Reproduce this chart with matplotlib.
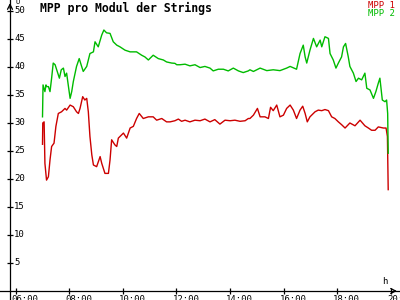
"""
plot.py
MPP pro Modul der Strings - daily curve of two strings.
"""
import matplotlib
matplotlib.use("Agg")
import matplotlib.pyplot as plt

# time in decimal hours, MPP voltage per module
T_MPP1 = [7.00, 7.01, 7.06, 7.09, 7.15, 7.22, 7.28, 7.34, 7.43, 7.50, 7.59, 7.71,
          7.84, 7.90, 8.03, 8.15, 8.27, 8.34, 8.40, 8.50, 8.58, 8.65, 8.71, 8.77,
          8.84, 8.90, 9.02, 9.15, 9.21, 9.33, 9.46, 9.52, 9.58, 9.70, 9.77, 9.83,
          10.02, 10.14, 10.27, 10.39, 10.51, 10.61, 10.76, 10.95, 11.13, 11.26,
          11.45, 11.63, 11.76, 11.94, 12.07, 12.19, 12.32, 12.50, 12.69, 12.88,
          13.06, 13.25, 13.43, 13.62, 13.81, 14.00, 14.18, 14.37, 14.56, 14.68,
          14.74, 14.87, 15.02, 15.12, 15.30, 15.43, 15.51, 15.61, 15.74, 15.86,
          15.99, 16.11, 16.24, 16.36, 16.48, 16.61, 16.71, 16.80, 16.88, 16.98,
          17.17, 17.29, 17.42, 17.54, 17.67, 17.79, 17.91, 18.04, 18.16, 18.29,
          18.47, 18.66, 18.85, 19.03, 19.16, 19.28, 19.41, 19.53, 19.72, 19.82,
          19.87, 19.88, 19.90]
MPP1 = [26.2, 30.0, 30.2, 22.8, 19.8, 20.4, 23.4, 25.8, 26.4, 29.4, 31.7, 32.0,
        32.6, 32.3, 33.2, 32.9, 32.0, 31.7, 32.6, 34.7, 34.1, 34.4, 32.0, 27.6,
        24.3, 22.5, 22.2, 24.0, 22.8, 21.0, 21.0, 23.4, 27.0, 26.1, 25.8, 27.3,
        28.2, 27.3, 29.1, 29.4, 30.8, 31.7, 30.8, 31.1, 31.1, 30.5,
        30.8, 30.2, 30.2, 30.4, 30.7, 30.3, 30.5, 30.2, 30.5, 30.4,
        30.7, 30.2, 30.6, 29.8, 30.5, 30.4, 30.5, 30.3, 30.4, 30.8,
        30.8, 31.4, 32.6, 31.1, 31.1, 30.8, 32.8, 32.2, 33.2, 31.1,
        31.4, 32.6, 33.2, 32.3, 30.8, 32.3, 33.0, 31.7, 30.2, 31.1,
        32.0, 32.3, 32.2, 32.4, 32.2, 31.1, 30.8, 30.2, 29.7, 29.1,
        30.0, 29.5, 30.5, 29.5, 29.1, 28.7, 28.7, 29.3, 29.1, 29.1,
        27.6, 24.6, 18.1]

T_MPP2 = [7.00, 7.02, 7.09, 7.13, 7.15, 7.22, 7.28, 7.34, 7.40, 7.47, 7.53, 7.63,
          7.70, 7.78, 7.84, 7.90, 7.96, 8.03, 8.09, 8.15, 8.27, 8.37, 8.46, 8.52,
          8.65, 8.77, 8.90, 8.96, 9.08, 9.21, 9.29, 9.39, 9.52, 9.64, 9.77, 9.89,
          10.08, 10.27, 10.51, 10.70, 10.82, 10.95, 11.13, 11.32, 11.51, 11.63,
          11.82, 11.94, 12.01, 12.13, 12.32, 12.50, 12.69, 12.88, 13.06, 13.25,
          13.37, 13.56, 13.75, 13.93, 14.12, 14.31, 14.49, 14.68, 14.74, 14.87,
          15.12, 15.37, 15.61, 15.86, 16.11, 16.24, 16.48, 16.61, 16.73, 16.80,
          16.86, 16.98, 17.11, 17.23, 17.36, 17.42, 17.54, 17.67, 17.73, 17.85,
          17.95, 18.04, 18.16, 18.23, 18.31, 18.41, 18.47, 18.60, 18.70, 18.79,
          18.91, 19.03, 19.10, 19.22, 19.35, 19.44, 19.53, 19.59, 19.68, 19.78,
          19.84, 19.88, 19.90]
MPP2 = [31.1, 36.8, 35.6, 36.8, 36.5, 36.5, 35.6, 38.0, 40.7, 40.4, 39.5, 38.0,
        39.5, 39.8, 38.3, 38.9, 36.8, 34.4, 35.6, 37.4, 40.1, 41.5, 40.1, 39.2,
        40.1, 42.4, 42.7, 44.5, 43.6, 45.7, 46.6, 46.1, 46.0, 44.5, 43.9, 43.6,
        43.0, 42.7, 42.7, 42.1, 41.8, 41.25, 42.1, 41.5, 41.25, 40.9,
        40.7, 40.65, 40.4, 40.4, 40.5, 40.2, 40.4, 39.9, 40.1, 39.8,
        39.3, 39.6, 39.6, 39.3, 39.8, 39.3, 39.0, 39.3, 39.5, 39.2,
        39.8, 39.35, 39.5, 39.35, 39.8, 40.1, 39.6, 42.4, 43.9, 41.8,
        40.7, 43.0, 45.1, 43.6, 44.8, 43.6, 45.4, 45.1, 42.4, 41.25,
        39.8, 40.7, 41.8, 43.6, 44.2, 41.8, 40.1, 38.9, 37.4, 38.0,
        37.7, 38.9, 36.2, 35.9, 34.4, 35.6, 37.1, 38.0, 34.1, 33.8,
        34.1, 31.7, 24.6]

Y_TICKS = list(range(5, 55, 5))
X_TICKS = [6, 8, 10, 12, 14, 16, 18, 20]
X_LABELS = ["06:00", "08:00", "10:00", "12:00", "14:00", "16:00", "18:00", "20:"]

RED = "#cc0000"
GREEN = "#00bb00"
MONO = "DejaVu Sans Mono"

fig = plt.figure(figsize=(4, 3), dpi=100)
ax = fig.add_axes([0, 0, 1, 1])
ax.set_xlim(5.414, 20.34)
ax.set_ylim(-1.607, 51.96)

y_axis_x = 5.787
ax.plot(T_MPP1, MPP1, color=RED, lw=1.0)
ax.plot(T_MPP2, MPP2, color=GREEN, lw=1.0)

# axes crossing at origin with arrow heads
for side in ("top", "right"):
    ax.spines[side].set_visible(False)
ax.spines["left"].set_position(("data", y_axis_x))
ax.spines["bottom"].set_position(("data", 0))
ax.spines["left"].set_linewidth(0.9)
ax.spines["bottom"].set_linewidth(0.9)
ax.annotate("", xy=(y_axis_x, 51.9), xytext=(y_axis_x, 50.0),
            arrowprops=dict(arrowstyle="->,head_length=0.35,head_width=0.18", lw=0.9))
ax.annotate("", xy=(20.33, 0), xytext=(20.0, 0),
            arrowprops=dict(arrowstyle="->,head_length=0.35,head_width=0.18", lw=0.9))

ax.set_yticks(Y_TICKS)
ax.set_xticks(X_TICKS)
ax.tick_params(direction="inout", length=5, width=0.9, labelleft=False, labelbottom=False)

for v in Y_TICKS:
    ax.text(y_axis_x + 0.16, v, str(v), ha="left", va="center",
            fontsize=6.5, family=MONO)
for t, lab in zip(X_TICKS, X_LABELS):
    ax.text(t - 0.15, -0.7, lab, ha="left", va="top", fontsize=6.5, family=MONO)

ax.text(y_axis_x + 0.2, 51.6, "U", ha="left", va="center", fontsize=5, family=MONO)
ax.text(19.78, 1.7, "h", ha="center", va="center", fontsize=6.5, family=MONO)

fig.text(40 / 400, 1 - 8 / 300, "MPP pro Modul der Strings", ha="left", va="center",
         fontsize=8.3, fontweight="bold", family=MONO)
fig.text(395 / 400, 1 - 5 / 300, "MPP 1", ha="right", va="center",
         fontsize=6.5, family=MONO, color=RED)
fig.text(395 / 400, 1 - 13 / 300, "MPP 2", ha="right", va="center",
         fontsize=6.5, family=MONO, color=GREEN)

fig.savefig("out.png", dpi=100)
